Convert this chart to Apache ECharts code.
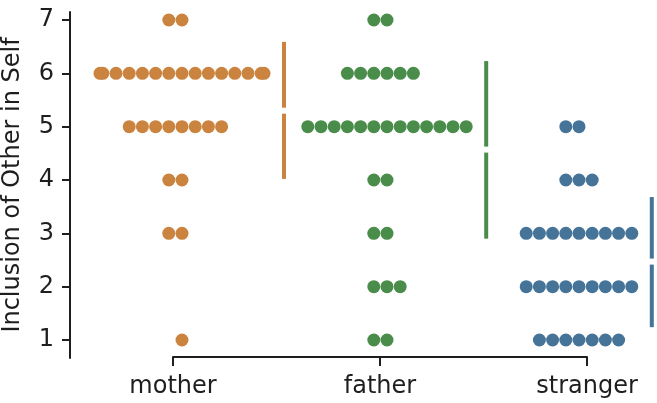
<!DOCTYPE html>
<html><head><meta charset="utf-8">
<script src="https://cdn.jsdelivr.net/npm/echarts@6/dist/echarts.min.js"></script>
<style>html,body{margin:0;padding:0;background:#fff}#c{width:657px;height:403px}</style>
</head><body><div id="c"></div>
<script>
// ---- data ----
var categories = ['mother', 'father', 'stranger'];
var levels = [1, 2, 3, 4, 5, 6, 7];
// number of participants at each level (1..7)
var motherCounts   = [1, 0, 2, 2, 8, 15, 2];
var fatherCounts   = [2, 3, 2, 2, 13, 6, 2];
var strangerCounts = [7, 9, 9, 3, 2, 0, 0];
// summary bars: low, mean, high
var lowVals  = [4.02, 2.90, 1.24];
var meanVals = [5.30, 4.57, 2.47];
var highVals = [6.59, 6.23, 3.68];
var yTickLabels = ['1', '2', '3', '4', '5', '6', '7'];

// ---- style / layout ----
var colors = ['#cb843f', '#4a8c4a', '#467499'];
var pxPerUnit = 207;          // x units -> px
var groupShiftPx = [9, 7, -8]; // swarm centre vs. tick
var dotSpacingPx = 13.2;
var clampPx = 82;
var lineGapPx = 20;
var fontFam = 'DejaVu Sans';
var axisColor = '#1e1e1e';

var countsByGroup = [motherCounts, fatherCounts, strangerCounts];
var scatterSeries = [];
var lineData = [];
countsByGroup.forEach(function (counts, g) {
  var pts = [];
  var maxOff = 0;
  counts.forEach(function (n, li) {
    for (var k = 0; k < n; k++) {
      var idx = k === 0 ? 0 : (k % 2 === 1 ? -(k + 1) / 2 : k / 2);
      var off = idx * dotSpacingPx;
      if (off > clampPx) off = clampPx;
      if (off < -clampPx) off = -clampPx;
      if (Math.abs(off) > maxOff) maxOff = Math.abs(off);
      pts.push([g + (groupShiftPx[g] + off) / pxPerUnit, levels[li]]);
    }
  });
  scatterSeries.push({
    type: 'scatter', xAxisIndex: 0, yAxisIndex: 0,
    data: pts, symbolSize: 13,
    itemStyle: { color: colors[g], opacity: 1 },
    silent: true, z: 3
  });
  lineData.push([g + (groupShiftPx[g] + maxOff + lineGapPx) / pxPerUnit,
                 lowVals[g], meanVals[g], highVals[g], g]);
});

var chart = echarts.init(document.getElementById('c'), null, { renderer: 'canvas' });
var xMin = -103 / pxPerUnit;
var xMax = xMin + 587 / pxPerUnit;
chart.setOption({
  animation: false,
  grid: [
    { left: 70, right: 0, top: 12, bottom: 45, containLabel: false, outerBoundsMode: 'none' },
    { left: 173, width: 414, top: 300, bottom: 46, containLabel: false, outerBoundsMode: 'none' }
  ],
  xAxis: [
    { type: 'value', gridIndex: 0, min: xMin, max: xMax, show: false },
    { type: 'category', gridIndex: 1, data: categories, boundaryGap: false,
      axisLine: { lineStyle: { color: axisColor, width: 2 } },
      axisTick: { length: 9, lineStyle: { color: axisColor, width: 2 } },
      axisLabel: { color: axisColor, fontFamily: fontFam, fontSize: 24, margin: 18 },
      splitLine: { show: false } }
  ],
  yAxis: [
    { type: 'value', gridIndex: 0, min: 0.6625, max: 7.15,
      name: 'Inclusion of Other in Self', nameLocation: 'middle', nameRotate: 90, nameGap: 45,
      nameTextStyle: { color: axisColor, fontFamily: fontFam, fontSize: 24 },
      axisLine: { show: true, onZero: false, lineStyle: { color: axisColor, width: 2 } },
      axisTick: { show: true, length: 8, customValues: levels, lineStyle: { color: axisColor, width: 2 } },
      axisLabel: { color: axisColor, fontFamily: fontFam, fontSize: 24, margin: 16,
                   customValues: levels,
                   formatter: function (v) { return yTickLabels[levels.indexOf(Math.round(v))] || ''; } },
      splitLine: { show: false } },
    { type: 'value', gridIndex: 1, show: false }
  ],
  series: scatterSeries.concat([{
    type: 'custom', xAxisIndex: 0, yAxisIndex: 0, silent: true, z: 4,
    data: lineData,
    renderItem: function (params, api) {
      var x = api.value(0);
      var pHigh = api.coord([x, api.value(3)]);
      var pMean = api.coord([x, api.value(2)]);
      var pLow = api.coord([x, api.value(1)]);
      var c = colors[api.value(4)];
      var st = { stroke: c, lineWidth: 4, lineCap: 'butt' };
      return { type: 'group', children: [
        { type: 'line', shape: { x1: pHigh[0], y1: pHigh[1], x2: pMean[0], y2: pMean[1] - 3 }, style: st },
        { type: 'line', shape: { x1: pMean[0], y1: pMean[1] + 3, x2: pLow[0], y2: pLow[1] }, style: st }
      ]};
    }
  }])
});
</script></body></html>
